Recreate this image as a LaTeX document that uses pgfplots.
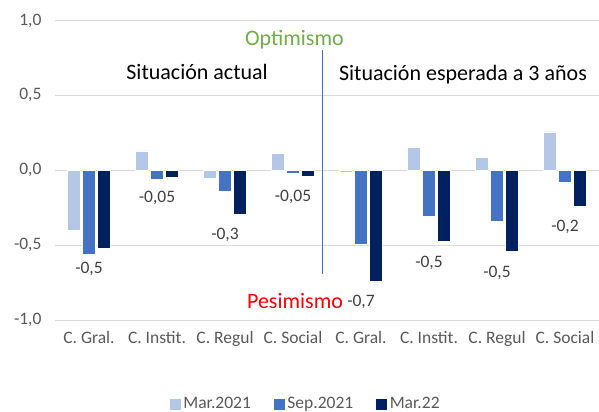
\documentclass[border=0pt]{standalone}
\usepackage{pgfplots}
\pgfplotsset{compat=1.18}
\usepackage{fontspec}
\setmainfont{Carlito}
\definecolor{cLight}{HTML}{B4C7E7}
\definecolor{cMid}{HTML}{4472C4}
\definecolor{cDark}{HTML}{002060}
\definecolor{cTick}{HTML}{595959}
\definecolor{cGrid}{HTML}{D9D9D9}
\definecolor{cGreen}{HTML}{70AD47}
\begin{document}
\begin{tikzpicture}
\useasboundingbox (0,0) rectangle (599bp,412bp);
\begin{axis}[
  at={(55bp,92bp)}, anchor=south west,
  scale only axis, width=544bp, height=299.5bp,
  xmin=-0.5, xmax=7.5, ymin=-1, ymax=1,
  ybar, bar width=13bp,
  axis line style={draw=none},
  major tick length=0pt,
  ytick={-1,-0.5,0,0.5,1},
  ymajorgrids, grid style={cGrid, line width=0.8bp},
  xtick={0,...,7},
  xticklabels={C. Gral.,C. Instit.,C. Regul,C. Social,C. Gral.,C. Instit.,C. Regul,C. Social},
  tick label style={font=\fontsize{17.5bp}{20bp}\selectfont, text=cTick},
  yticklabel style={xshift=-10bp},
  xticklabel style={yshift=-8bp},
  /pgf/number format/.cd, fixed, fixed zerofill, precision=1, use comma, assume math mode=true,
  /pgfplots/.cd,
  legend style={at={(0.46,-0.28)}, anchor=center, draw=none, fill=none,
    legend columns=3, font=\fontsize{17.5bp}{20bp}\selectfont, text=cTick,
    /tikz/every even column/.append style={column sep=20bp}},
  legend image code/.code={\fill[#1] (0bp,-6bp) rectangle (12bp,6bp);},
  clip=false,
]
\addplot[fill=cLight, draw=white, line width=0.5bp, bar shift=-15bp] coordinates {
(0,-0.40) (1,0.13) (2,-0.055) (3,0.115) (4,-0.013) (5,0.153) (6,0.087) (7,0.256)};
\addlegendentry{Mar.2021}
\addplot[fill=cMid, draw=white, line width=0.5bp, bar shift=0bp] coordinates {
(0,-0.56) (1,-0.058) (2,-0.14) (3,-0.017) (4,-0.495) (5,-0.31) (6,-0.34) (7,-0.077)};
\addlegendentry{Sep.2021}
\addplot[fill=cDark, draw=white, line width=0.5bp, bar shift=15bp,
  point meta=explicit symbolic,
  nodes near coords,
  every node near coord/.style={anchor=center, yshift=-21bp, text=black!75,
     font=\fontsize{17.5bp}{20bp}\selectfont}] coordinates {
(0,-0.52) [-0,5]
(1,-0.047) [-0,05]
(2,-0.295) [-0,3]
(3,-0.04) [-0,05]
(4,-0.74) [-0,7]
(5,-0.477) [-0,5]
(6,-0.544) [-0,5]
(7,-0.24) [-0,2]};
\addlegendentry{Mar.22}
\draw[cMid, line width=1bp] (axis cs:3.44,0.80) -- (axis cs:3.44,-0.69);
\node[text=cGreen, font=\fontsize{22bp}{26bp}\selectfont] at (axis cs:3.02,0.871) {Optimismo};
\node[text=red, font=\fontsize{22bp}{26bp}\selectfont] at (axis cs:3.03,-0.875) {Pesimismo};
\node[text=black, font=\fontsize{22bp}{26bp}\selectfont] at (axis cs:1.59,0.658) {Situación actual};
\node[text=black, font=\fontsize{22bp}{26bp}\selectfont] at (axis cs:5.5,0.638) {Situación esperada a 3 años};
\end{axis}
\end{tikzpicture}
\end{document}
